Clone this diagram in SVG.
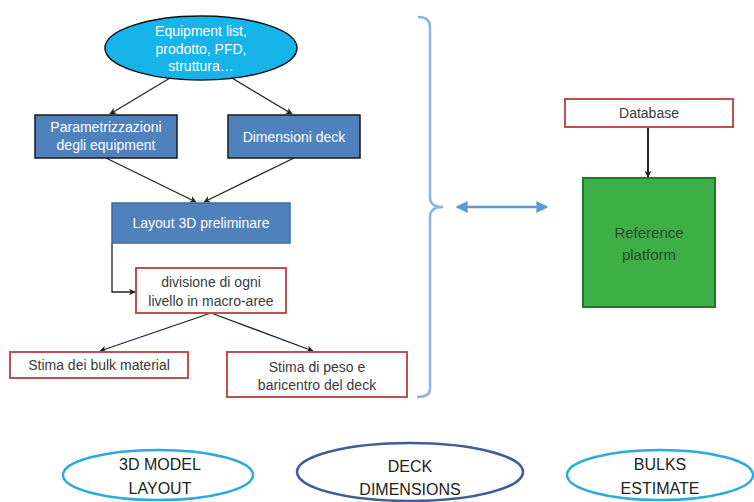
<svg xmlns="http://www.w3.org/2000/svg" width="754" height="502" viewBox="0 0 754 502">
<defs>
<marker id="ah" viewBox="0 0 10 10" refX="9" refY="5" markerWidth="7" markerHeight="7" orient="auto-start-reverse" markerUnits="userSpaceOnUse">
<path d="M0,0 L10,5 L0,10 L3,5 Z" fill="#222"/>
</marker>
<marker id="bh" viewBox="0 0 10 10" refX="8" refY="5" markerWidth="12" markerHeight="12" orient="auto-start-reverse" markerUnits="userSpaceOnUse">
<path d="M0,0 L10,5 L0,10 Z" fill="#5b9bd5"/>
</marker>
<style>
text{font-family:"Liberation Sans","Open Sans",sans-serif;text-anchor:middle}
.w{fill:#ffffff;font-size:14px}
.d{fill:#3a3a3a;font-size:14px}
.blue{fill:#4f81bd;stroke:#1a1a1a;stroke-width:1.5}
.red{fill:#ffffff;stroke:#c0504d;stroke-width:2}
.con{fill:none;stroke:#222;stroke-width:1.3;marker-end:url(#ah)}
.thick{stroke-width:2}
.b{fill:#222;font-size:16px}
</style>
</defs>
<rect width="754" height="502" fill="#ffffff"/>

<g id="connectors">
<line class="con" x1="170" y1="78" x2="110" y2="114"/>
<line class="con" x1="232" y1="78" x2="292" y2="114"/>
<line class="con" x1="106" y1="158" x2="196" y2="202"/>
<line class="con" x1="294" y1="158" x2="204" y2="202"/>
<polyline class="con" points="112,243 112,292 135,292"/>
<line class="con" x1="211" y1="313" x2="100" y2="351"/>
<line class="con" x1="211" y1="313" x2="313" y2="351"/>
<line class="con thick" x1="648" y1="127" x2="648" y2="177"/>
<line x1="458" y1="207" x2="546" y2="207" stroke="#5b9bd5" stroke-width="2.5" marker-start="url(#bh)" marker-end="url(#bh)"/>
<path d="M418,17 Q430,17 430,27 L430,197 Q430,207 443,207 Q430,207 430,217 L430,389 Q430,397 417,397" fill="none" stroke="#8eb4e3" stroke-width="2.5"/>
</g>

<g id="n-input">
<ellipse cx="201" cy="48" rx="96" ry="32" fill="#17b4ea" stroke="#111" stroke-width="1.5"/>
<text class="w" x="201" y="36">Equipment list,</text>
<text class="w" x="201" y="54">prodotto, PFD,</text>
<text class="w" x="201" y="71">struttura…</text>
</g>

<g id="n-param">
<rect class="blue" x="35" y="115" width="142" height="43"/>
<text class="w" x="106" y="132">Parametrizzazioni</text>
<text class="w" x="106" y="150">degli equipment</text>
</g>

<g id="n-dim">
<rect class="blue" x="228" y="115" width="132" height="43"/>
<text class="w" x="294" y="142">Dimensioni deck</text>
</g>

<g id="n-layout">
<rect x="112" y="203" width="178" height="40" fill="#4f81bd" stroke="#3b6ba5" stroke-width="1.5"/>
<text class="w" x="201" y="228">Layout 3D preliminare</text>
</g>

<g id="n-div">
<rect class="red" x="136" y="268" width="150" height="45"/>
<text class="d" x="211" y="287">divisione di ogni</text>
<text class="d" x="211" y="306">livello in macro-aree</text>
</g>

<g id="n-bulk">
<rect class="red" x="10" y="352" width="178" height="26"/>
<text class="d" x="99" y="370">Stima dei bulk material</text>
</g>

<g id="n-peso">
<rect class="red" x="227" y="352" width="180" height="45"/>
<text class="d" x="317" y="372">Stima di peso e</text>
<text class="d" x="317" y="390">baricentro del deck</text>
</g>

<g id="n-db">
<rect class="red" x="565" y="99" width="168" height="28"/>
<text class="d" x="649" y="118">Database</text>
</g>

<g id="n-ref">
<rect x="583" y="178" width="132" height="129" fill="#3eae47" stroke="#1f7a2c" stroke-width="2"/>
<text x="649" y="238" fill="#2a4a2a" font-size="15">Reference</text>
<text x="649" y="260" fill="#2a4a2a" font-size="15">platform</text>
</g>

<g id="n-3d">
<ellipse cx="158" cy="475" rx="95" ry="25" fill="#ffffff" stroke="#29abe2" stroke-width="2.5"/>
<text class="b" x="160" y="470">3D MODEL</text>
<text class="b" x="160" y="494">LAYOUT</text>
</g>

<g id="n-deck">
<ellipse cx="410" cy="472" rx="113" ry="29" fill="#ffffff" stroke="#3d5f95" stroke-width="2.5"/>
<text class="b" x="410" y="472">DECK</text>
<text class="b" x="410" y="495">DIMENSIONS</text>
</g>

<g id="n-bulks">
<ellipse cx="660" cy="475" rx="93" ry="25" fill="#ffffff" stroke="#29abe2" stroke-width="2.5"/>
<text class="b" x="660" y="470">BULKS</text>
<text class="b" x="660" y="494">ESTIMATE</text>
</g>
</svg>
